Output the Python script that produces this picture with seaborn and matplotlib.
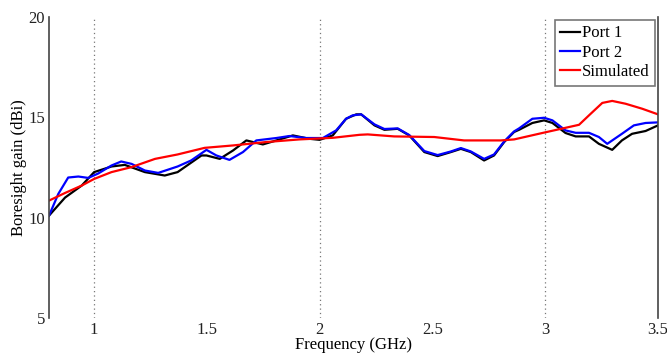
import pandas as pd
import seaborn as sns
import matplotlib.pyplot as plt

# Ölçülen ve simüle edilen kazanç değerleri
port1_freq = [0.80, 0.871, 0.945, 1.00, 1.077, 1.136, 1.225, 1.313, 1.37, 1.476,
              1.498, 1.557, 1.616, 1.675, 1.748, 1.808, 1.881, 1.955, 2.00, 2.058,
              2.117, 2.162, 2.184, 2.243, 2.287, 2.346, 2.397, 2.464, 2.523, 2.582,
              2.626, 2.67, 2.729, 2.773, 2.818, 2.862, 2.884, 2.943, 2.995, 3.032,
              3.09, 3.135, 3.194, 3.238, 3.297, 3.34, 3.385, 3.445, 3.50]
port1_gain = [10.1, 11.0, 11.6, 12.27, 12.55, 12.63, 12.27, 12.1, 12.27, 13.1,
              13.1, 12.93, 13.35, 13.85, 13.65, 13.85, 14.1, 13.93, 13.88, 14.1,
              14.93, 15.15, 15.15, 14.6, 14.38, 14.43, 14.1, 13.27, 13.07, 13.27,
              13.43, 13.27, 12.85, 13.1, 13.77, 14.27, 14.38, 14.72, 14.85, 14.72,
              14.22, 14.05, 14.05, 13.68, 13.38, 13.85, 14.18, 14.32, 14.6]

port2_freq = [0.80, 0.841, 0.885, 0.93, 0.974, 1.018, 1.077, 1.12, 1.166, 1.225,
              1.284, 1.37, 1.43, 1.498, 1.542, 1.60, 1.66, 1.719, 1.808, 1.866,
              1.94, 2.014, 2.073, 2.117, 2.146, 2.184, 2.243, 2.287, 2.346, 2.397,
              2.464, 2.523, 2.582, 2.626, 2.67, 2.729, 2.773, 2.818, 2.862, 2.884,
              2.943, 2.995, 3.032, 3.09, 3.135, 3.194, 3.238, 3.275, 3.34, 3.393,
              3.445, 3.50]
port2_gain = [10.1, 11.18, 12.0, 12.05, 11.98, 12.2, 12.6, 12.8, 12.68, 12.35,
              12.23, 12.55, 12.85, 13.38, 13.1, 12.88, 13.27, 13.85, 13.97, 14.07,
              13.97, 13.97, 14.35, 14.93, 15.1, 15.15, 14.65, 14.42, 14.45, 14.12,
              13.32, 13.12, 13.3, 13.47, 13.3, 12.93, 13.15, 13.8, 14.3, 14.45,
              14.93, 14.98, 14.85, 14.35, 14.23, 14.23, 14.02, 13.68, 14.18, 14.6,
              14.72, 14.75]

sim_freq = [0.80, 0.871, 0.945, 1.00, 1.077, 1.166, 1.27, 1.37, 1.49, 1.616,
            1.763, 1.91, 2.058, 2.177, 2.213, 2.33, 2.508, 2.64, 2.803, 2.862,
            2.987, 3.15, 3.194, 3.253, 3.297, 3.356, 3.43, 3.50]
sim_gain = [10.85, 11.23, 11.6, 11.93, 12.27, 12.52, 12.93, 13.15, 13.48, 13.6,
            13.77, 13.9, 13.98, 14.13, 14.15, 14.05, 14.02, 13.85, 13.85, 13.9,
            14.22, 14.63, 15.1, 15.72, 15.82, 15.68, 15.43, 15.15]

plt.rcParams['font.family'] = ['Liberation Serif', 'DejaVu Serif']

fig = plt.figure(figsize=(6.67, 3.56), dpi=100)
ax = fig.add_axes([0.0735, 0.107, 0.913, 0.845])

sns.lineplot(x=port1_freq, y=port1_gain, color='black', lw=1.6, label='Port 1', ax=ax)
sns.lineplot(x=port2_freq, y=port2_gain, color='#0000ff', lw=1.6, label='Port 2', ax=ax)
sns.lineplot(x=sim_freq, y=sim_gain, color='#ff0000', lw=1.6, label='Simulated', ax=ax)

ax.set_xlim(0.8, 3.5)
ax.set_ylim(5, 20)
ax.set_xticks([1, 1.5, 2, 2.5, 3, 3.5])
ax.set_xticklabels(['1', '1.5', '2', '2.5', '3', '3.5'])
ax.set_yticks([5, 10, 15, 20])

# Sadece 1, 2, 3 GHz'de noktalı dikey çizgiler
for xv in [1, 2, 3]:
    ax.axvline(xv, color='#777777', ls=(0, (1, 2.5)), lw=0.9, zorder=0)

ax.tick_params(length=0, labelsize=12, colors='#222222', pad=3)
for side in ['top', 'bottom']:
    ax.spines[side].set_visible(False)
for side in ['left', 'right']:
    ax.spines[side].set_color('#444444')
    ax.spines[side].set_linewidth(1.2)

ax.set_xlabel('Frequency (GHz)', fontsize=12, labelpad=-1)
ax.set_ylabel('Boresight gain (dBi)', fontsize=12, labelpad=1)

leg = ax.legend(loc='upper right', fontsize=12, frameon=True, fancybox=False,
                handlelength=1.2, handletextpad=0.1, borderpad=0.35,
                labelspacing=0.2, borderaxespad=0.15)
leg.get_frame().set_edgecolor('#555555')
leg.get_frame().set_linewidth(1.2)

plt.savefig('out.png', dpi=100)
